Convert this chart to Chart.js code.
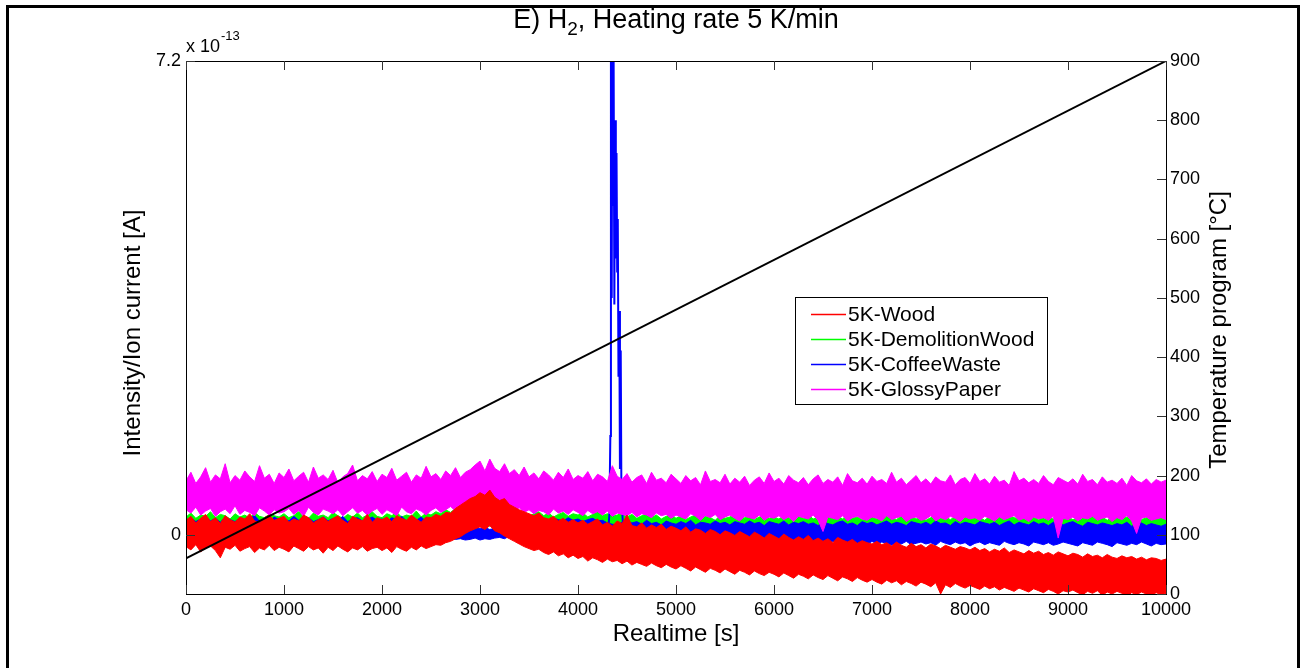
<!DOCTYPE html>
<html><head><meta charset="utf-8">
<script src="https://cdn.jsdelivr.net/npm/chart.js@4/dist/chart.umd.min.js"></script>
<style>html,body{margin:0;padding:0;background:#fff}canvas{display:block}</style>
</head><body>
<canvas id="c" width="1306" height="668"></canvas>
<script>
// ---- data: left-axis values are in units of 1e-13 A; each noisy trace is given by
// the upper and lower edge of its noise band, read every 50 s ----
const sampleTimes = [0,50,100,150,200,250,300,350,400,450,500,550,600,650,700,750,800,850,900,950,
1000,1050,1100,1150,1200,1250,1300,1350,1400,1450,1500,1550,1600,1650,1700,1750,1800,1850,1900,1950,
2000,2050,2100,2150,2200,2250,2300,2350,2400,2450,2500,2550,2600,2650,2700,2750,2800,2850,2900,2950,
3000,3050,3100,3150,3200,3250,3300,3350,3400,3450,3500,3550,3600,3650,3700,3750,3800,3850,3900,3950,
4000,4050,4100,4150,4200,4250,4300,4350,4400,4450,4500,4550,4600,4650,4700,4750,4800,4850,4900,4950,
5000,5050,5100,5150,5200,5250,5300,5350,5400,5450,5500,5550,5600,5650,5700,5750,5800,5850,5900,5950,
6000,6050,6100,6150,6200,6250,6300,6350,6400,6450,6500,6550,6600,6650,6700,6750,6800,6850,6900,6950,
7000,7050,7100,7150,7200,7250,7300,7350,7400,7450,7500,7550,7600,7650,7700,7750,7800,7850,7900,7950,
8000,8050,8100,8150,8200,8250,8300,8350,8400,8450,8500,8550,8600,8650,8700,8750,8800,8850,8900,8950,
9000,9050,9100,9150,9200,9250,9300,9350,9400,9450,9500,9550,9600,9650,9700,9750,9800,9850,9900,9950,
10000];

const woodUpper = [0.22,0.28,0.18,0.25,0.31,0.20,0.26,0.17,0.29,0.23,0.19,0.27,0.24,0.32,0.21,0.18,0.26,0.30,0.22,0.25,
0.28,0.19,0.24,0.21,0.30,0.26,0.18,0.23,0.27,0.20,0.25,0.29,0.22,0.17,0.28,0.24,0.21,0.31,0.19,0.26,
0.23,0.27,0.20,0.29,0.25,0.22,0.30,0.24,0.19,0.27,0.26,0.31,0.28,0.34,0.33,0.40,0.45,0.50,0.55,0.58,
0.64,0.60,0.68,0.57,0.52,0.55,0.46,0.42,0.38,0.35,0.32,0.29,0.33,0.26,0.24,0.28,0.21,0.25,0.19,0.23,
0.18,0.22,0.16,0.20,0.24,0.15,0.19,0.13,0.21,0.17,0.30,0.14,0.12,0.18,0.10,0.15,0.11,0.16,0.08,0.13,
0.10,0.06,0.12,0.04,0.09,0.07,0.02,0.08,0.05,0.00,0.06,0.03,-0.01,0.05,0.01,-0.03,0.04,0.00,-0.05,0.02,
-0.02,-0.06,0.01,-0.04,-0.08,-0.03,-0.07,-0.01,-0.09,-0.05,-0.10,-0.06,-0.12,-0.04,-0.08,-0.11,-0.07,-0.13,-0.09,-0.12,
-0.14,-0.10,-0.15,-0.12,-0.17,-0.11,-0.16,-0.19,-0.13,-0.18,-0.15,-0.20,-0.14,-0.17,-0.21,-0.16,-0.19,-0.22,-0.18,-0.20,
-0.23,-0.19,-0.24,-0.21,-0.26,-0.22,-0.25,-0.20,-0.27,-0.23,-0.26,-0.29,-0.24,-0.28,-0.25,-0.30,-0.27,-0.31,-0.26,-0.29,
-0.32,-0.28,-0.30,-0.34,-0.29,-0.33,-0.31,-0.35,-0.30,-0.34,-0.36,-0.32,-0.35,-0.33,-0.37,-0.34,-0.38,-0.35,-0.36,-0.39,
-0.37];
const woodLower = [-0.18,-0.23,-0.15,-0.26,-0.20,-0.17,-0.24,-0.35,-0.19,-0.22,-0.16,-0.25,-0.21,-0.18,-0.27,-0.20,-0.23,-0.16,-0.24,-0.19,
-0.22,-0.26,-0.17,-0.21,-0.25,-0.18,-0.23,-0.20,-0.28,-0.19,-0.24,-0.17,-0.22,-0.26,-0.20,-0.23,-0.18,-0.25,-0.21,-0.19,
-0.24,-0.20,-0.27,-0.18,-0.22,-0.25,-0.19,-0.23,-0.17,-0.21,-0.18,-0.15,-0.16,-0.12,-0.10,-0.06,-0.03,0.02,0.06,0.09,
0.12,0.08,0.14,0.06,0.03,-0.02,-0.06,-0.10,-0.14,-0.18,-0.21,-0.24,-0.22,-0.27,-0.30,-0.26,-0.32,-0.29,-0.35,-0.31,
-0.36,-0.33,-0.40,-0.35,-0.38,-0.42,-0.37,-0.41,-0.39,-0.44,-0.40,-0.46,-0.42,-0.45,-0.48,-0.43,-0.47,-0.50,-0.45,-0.49,
-0.52,-0.47,-0.51,-0.55,-0.49,-0.53,-0.57,-0.51,-0.54,-0.58,-0.52,-0.56,-0.60,-0.54,-0.57,-0.61,-0.55,-0.59,-0.62,-0.57,
-0.60,-0.64,-0.58,-0.62,-0.66,-0.60,-0.63,-0.67,-0.61,-0.65,-0.68,-0.62,-0.66,-0.70,-0.64,-0.67,-0.71,-0.65,-0.69,-0.72,
-0.68,-0.72,-0.75,-0.69,-0.73,-0.70,-0.76,-0.71,-0.74,-0.78,-0.72,-0.75,-0.79,-0.73,-0.90,-0.76,-0.80,-0.74,-0.78,-0.81,
-0.77,-0.80,-0.83,-0.78,-0.82,-0.79,-0.84,-0.80,-0.83,-0.86,-0.81,-0.84,-0.87,-0.82,-0.85,-0.88,-0.83,-0.86,-0.90,-0.85,
-0.87,-0.84,-0.88,-0.91,-0.86,-0.89,-0.85,-0.92,-0.87,-0.90,-0.86,-0.89,-0.93,-0.88,-0.91,-0.87,-0.90,-0.92,-0.88,-0.91,
-0.89];

const demolitionWoodUpper = [0.27,0.33,0.25,0.30,0.28,0.35,0.26,0.31,0.29,0.24,0.32,0.27,0.30,0.25,0.34,0.28,0.26,0.31,0.29,0.27,
0.32,0.26,0.29,0.35,0.27,0.25,0.33,0.28,0.30,0.26,0.34,0.29,0.25,0.31,0.27,0.33,0.26,0.30,0.35,0.28,
0.26,0.32,0.29,0.34,0.27,0.30,0.28,0.36,0.27,0.33,0.30,0.35,0.32,0.38,0.34,0.40,0.36,0.42,0.38,0.41,
0.37,0.42,0.35,0.40,0.33,0.37,0.31,0.35,0.30,0.34,0.28,0.32,0.35,0.29,0.33,0.27,0.31,0.34,0.28,0.32,
0.30,0.33,0.27,0.31,0.35,0.29,0.32,0.28,0.30,0.33,0.27,0.31,0.25,0.29,0.32,0.26,0.30,0.24,0.28,0.31,
0.25,0.29,0.23,0.27,0.30,0.24,0.28,0.26,0.22,0.29,0.25,0.27,0.31,0.24,0.26,0.28,0.23,0.27,0.30,0.25,
0.27,0.24,0.29,0.26,0.22,0.28,0.25,0.30,0.24,0.27,0.23,0.29,0.26,0.28,0.24,0.31,0.25,0.27,0.23,0.26,
0.28,0.24,0.27,0.30,0.25,0.23,0.29,0.26,0.28,0.24,0.27,0.22,0.26,0.29,0.25,0.27,0.23,0.28,0.25,0.30,
0.24,0.27,0.26,0.22,0.28,0.25,0.29,0.23,0.27,0.26,0.24,0.30,0.25,0.27,0.23,0.28,0.26,0.24,0.29,0.25,
0.27,0.23,0.26,0.28,0.24,0.30,0.25,0.27,0.22,0.26,0.28,0.24,0.27,0.25,0.29,0.23,0.26,0.28,0.24,0.27,
0.25];
const demolitionWoodLower = [0.08,0.05,0.10,0.06,0.09,0.04,0.11,0.07,0.05,0.09,0.06,0.10,0.04,0.08,0.07,0.11,0.05,0.09,0.06,0.08,
0.10,0.05,0.07,0.09,0.04,0.08,0.06,0.11,0.07,0.05,0.09,0.06,0.10,0.04,0.08,0.07,0.05,0.09,0.06,0.10,
0.07,0.04,0.09,0.06,0.08,0.05,0.10,0.07,0.06,0.09,0.08,0.11,0.09,0.12,0.10,0.14,0.12,0.15,0.13,0.16,
0.14,0.17,0.13,0.15,0.11,0.13,0.09,0.11,0.07,0.10,0.06,0.09,0.05,0.08,0.06,0.10,0.07,0.05,0.09,0.06,
0.08,0.05,0.07,0.09,0.04,0.06,0.08,0.05,0.07,0.04,0.06,0.03,0.05,0.02,0.06,0.04,0.03,0.05,0.02,0.04,
0.03,0.05,0.01,0.04,0.02,0.06,0.03,0.00,0.04,0.02,0.05,0.01,0.03,0.04,0.00,0.02,0.05,0.01,0.03,0.02,
0.04,0.01,0.03,0.00,0.05,0.02,0.03,0.01,0.04,0.02,0.00,0.03,0.05,0.01,0.02,0.04,0.00,0.03,0.01,0.02,
0.04,0.00,0.02,0.03,0.01,0.05,0.02,0.00,0.03,0.01,0.04,0.02,0.00,0.03,0.01,0.02,0.04,0.00,0.02,0.03,
0.01,0.03,0.00,0.02,0.04,0.01,0.02,0.00,0.03,0.01,0.02,0.04,0.00,0.01,0.03,0.02,0.00,0.02,0.01,0.03,
0.00,0.02,0.01,0.03,0.00,0.02,0.04,0.01,0.00,0.02,0.01,0.03,0.00,0.01,0.02,0.00,0.03,0.01,0.00,0.02,
0.01];

const coffeeWasteUpper = [0.22,0.26,0.20,0.24,0.28,0.21,0.25,0.19,0.27,0.23,0.20,0.26,0.22,0.25,0.29,0.21,0.24,0.20,0.27,0.23,
0.25,0.21,0.28,0.22,0.24,0.26,0.20,0.23,0.27,0.21,0.25,0.22,0.28,0.20,0.24,0.26,0.21,0.23,0.27,0.22,
0.24,0.20,0.26,0.23,0.28,0.21,0.25,0.22,0.27,0.20,0.24,0.23,0.21,0.19,0.17,0.15,0.13,0.11,0.10,0.12,
0.09,0.11,0.08,0.10,0.13,0.15,0.18,0.20,0.22,0.19,0.24,0.21,0.26,0.22,0.20,0.25,0.23,0.21,0.26,0.22,
0.24,0.20,0.23,0.25,0.21,0.22,0.18,0.16,0.15,0.19,0.21,0.18,0.20,0.16,0.22,0.17,0.19,0.15,0.21,0.18,
0.16,0.20,0.17,0.22,0.15,0.19,0.18,0.16,0.21,0.17,0.19,0.15,0.20,0.18,0.16,0.21,0.17,0.19,0.14,0.20,
0.18,0.16,0.21,0.15,0.19,0.17,0.20,0.16,0.18,0.14,0.20,0.17,0.15,0.19,0.21,0.16,0.18,0.14,0.20,0.17,
0.19,0.15,0.18,0.21,0.16,0.19,0.17,0.14,0.20,0.18,0.16,0.19,0.15,0.21,0.17,0.18,0.14,0.20,0.16,0.19,
0.17,0.15,0.20,0.18,0.16,0.19,0.14,0.18,0.21,0.15,0.19,0.17,0.15,0.20,0.16,0.18,0.14,0.19,0.17,0.15,
0.18,0.20,0.16,0.13,0.19,0.17,0.15,0.18,0.16,0.14,0.17,0.15,0.19,0.13,0.16,0.18,0.14,0.17,0.15,0.13,
0.16];
const coffeeWasteLower = [-0.02,0.03,-0.04,0.01,-0.03,0.02,-0.05,0.00,-0.01,0.03,-0.04,0.01,-0.02,0.02,-0.03,0.00,-0.05,0.02,-0.01,-0.03,
0.01,-0.04,0.02,-0.02,0.00,-0.03,0.03,-0.01,-0.04,0.02,-0.02,0.01,-0.03,0.00,-0.05,0.02,-0.01,-0.03,0.01,-0.02,
0.00,-0.04,0.02,-0.01,-0.03,0.01,-0.02,0.03,-0.04,0.00,-0.02,0.01,-0.03,-0.05,-0.06,-0.07,-0.06,-0.08,-0.07,-0.05,
-0.08,-0.06,-0.07,-0.05,-0.04,-0.06,-0.02,-0.03,0.00,-0.02,0.01,-0.03,0.00,-0.02,-0.04,0.01,-0.01,-0.03,0.00,-0.02,
-0.01,-0.03,0.00,-0.04,-0.02,-0.01,-0.05,-0.03,0.00,-0.06,-0.10,-0.13,-0.09,-0.14,-0.11,-0.12,-0.15,-0.10,-0.13,-0.11,
-0.14,-0.09,-0.12,-0.15,-0.10,-0.13,-0.11,-0.14,-0.12,-0.16,-0.11,-0.13,-0.10,-0.14,-0.12,-0.15,-0.11,-0.13,-0.16,-0.10,
-0.14,-0.12,-0.11,-0.15,-0.13,-0.10,-0.14,-0.12,-0.16,-0.11,-0.13,-0.15,-0.10,-0.12,-0.14,-0.11,-0.16,-0.13,-0.12,-0.15,
-0.10,-0.14,-0.11,-0.13,-0.16,-0.12,-0.14,-0.10,-0.15,-0.13,-0.11,-0.14,-0.12,-0.16,-0.10,-0.13,-0.15,-0.11,-0.14,-0.12,
-0.17,-0.13,-0.11,-0.15,-0.12,-0.14,-0.16,-0.10,-0.13,-0.15,-0.12,-0.14,-0.17,-0.11,-0.13,-0.15,-0.12,-0.16,-0.14,-0.11,
-0.13,-0.15,-0.17,-0.12,-0.14,-0.16,-0.11,-0.13,-0.15,-0.18,-0.12,-0.14,-0.16,-0.13,-0.15,-0.11,-0.14,-0.17,-0.13,-0.15,
-0.14];
// the narrow CoffeeWaste burst near 4400 s (values above 7.2 run off the top of the axes)
const coffeeSpikeTimes  = [4310,4320,4330,4336,4344,4350,4356,4363,4371,4378,4386,4393,4400,4406,4413,4421,4428,4436,4443,4450,4460];
const coffeeSpikeValues = [0.10,0.30,1.50,8.50,3.60,8.00,5.00,7.50,3.50,6.30,4.20,5.80,4.00,4.80,2.40,3.40,1.00,2.80,0.60,0.40,0.10];

const glossyPaperUpper = [0.82,0.95,0.78,0.88,1.02,0.80,0.91,0.85,1.08,0.79,0.90,0.83,0.97,0.88,0.81,1.05,0.86,0.92,0.78,0.94,
0.87,1.00,0.82,0.89,0.95,0.80,1.03,0.86,0.91,0.84,0.98,0.79,0.88,0.93,1.06,0.82,0.90,0.85,0.96,0.81,
0.92,0.87,1.01,0.83,0.89,0.95,0.80,0.91,0.86,1.04,0.88,0.93,0.84,0.97,0.90,1.02,0.87,0.95,0.99,1.06,
1.12,0.97,1.15,1.01,0.96,1.08,0.93,0.99,0.90,1.03,0.88,0.94,0.85,0.97,0.91,0.83,0.95,0.87,1.00,0.84,
0.90,0.86,0.96,0.82,0.92,0.88,0.81,1.05,0.89,0.84,0.93,0.80,0.87,0.91,0.78,0.95,0.83,0.86,0.79,0.92,
0.85,0.78,0.90,0.82,0.87,0.76,0.97,0.81,0.84,0.79,0.92,0.77,0.86,0.80,0.89,0.75,0.83,0.88,0.78,0.94,
0.81,0.86,0.77,0.90,0.83,0.79,0.87,0.76,0.85,0.91,0.78,0.84,0.80,0.88,0.75,0.93,0.82,0.79,0.86,0.77,
0.89,0.81,0.84,0.78,0.95,0.80,0.86,0.76,0.83,0.90,0.79,0.85,0.77,0.88,0.82,0.80,0.91,0.76,0.84,0.87,
0.78,0.93,0.81,0.85,0.77,0.89,0.80,0.83,0.75,0.96,0.82,0.86,0.79,0.84,0.78,0.90,0.81,0.76,0.87,0.83,
0.79,0.85,0.77,0.92,0.81,0.84,0.76,0.88,0.80,0.83,0.78,0.86,0.75,0.90,0.82,0.79,0.85,0.77,0.84,0.80,
0.83];
const glossyPaperLower = [0.38,0.33,0.42,0.30,0.36,0.40,0.28,0.35,0.39,0.32,0.44,0.31,0.37,0.34,0.29,0.41,0.36,0.30,0.38,0.33,
0.35,0.40,0.31,0.37,0.28,0.42,0.34,0.30,0.39,0.36,0.32,0.38,0.29,0.35,0.41,0.33,0.37,0.30,0.36,0.40,
0.31,0.38,0.34,0.29,0.42,0.35,0.32,0.39,0.36,0.30,0.37,0.41,0.34,0.38,0.43,0.36,0.40,0.45,0.39,0.44,
0.47,0.41,0.46,0.42,0.38,0.44,0.40,0.36,0.41,0.34,0.38,0.32,0.37,0.35,0.30,0.39,0.33,0.36,0.31,0.38,
0.34,0.29,0.37,0.32,0.35,0.30,0.36,0.28,0.33,0.31,0.29,0.34,0.27,0.32,0.30,0.26,0.33,0.29,0.31,0.25,
0.30,0.27,0.24,0.32,0.28,0.22,0.29,0.26,0.31,0.23,0.27,0.30,0.25,0.21,0.28,0.26,0.24,0.30,0.22,0.27,
0.25,0.29,0.23,0.27,0.20,0.28,0.26,0.24,0.30,0.22,0.05,0.27,0.25,0.23,0.29,0.21,0.26,0.28,0.24,0.22,
0.27,0.25,0.21,0.29,0.23,0.26,0.28,0.20,0.25,0.27,0.22,0.24,0.29,0.21,0.26,0.23,0.28,0.25,0.20,0.27,
0.24,0.26,0.22,0.28,0.25,0.21,0.27,0.23,0.26,0.29,0.22,0.25,0.20,0.27,0.24,0.26,0.22,0.28,-0.05,0.25,
0.23,0.27,0.21,0.26,0.24,0.28,0.22,0.25,0.27,0.20,0.26,0.23,0.29,0.21,0.02,0.25,0.27,0.22,0.24,0.26,
0.23];

const temperatureTimes  = [0, 10000];
const temperatureValues = [60, 900];

const xTickValues     = [0,1000,2000,3000,4000,5000,6000,7000,8000,9000,10000];
const leftTickValues  = [0, 7.2];
const rightTickValues = [0,100,200,300,400,500,600,700,800,900];

const seriesLabels = ['5K-Wood','5K-DemolitionWood','5K-CoffeeWaste','5K-GlossyPaper'];
const seriesColors = ['#ff0000','#00ff00','#0000ff','#ff00ff'];

const titleText = ['E) H', '2', ', Heating rate 5 K/min'];
const xLabel = 'Realtime [s]';
const yLabel = 'Intensity/Ion current [A]';
const y1Label = 'Temperature program [\u00B0C]';

// ---- build ----
const FONT = '"Liberation Sans", Arial, sans-serif';
const pairs = (ts, vs) => ts.map((t, i) => ({x: t, y: vs[i]}));
const bands = [
  [woodUpper, woodLower],
  [demolitionWoodUpper, demolitionWoodLower],
  [coffeeWasteUpper, coffeeWasteLower],
  [glossyPaperUpper, glossyPaperLower]
];
const drawOrder = [1, 4, 3, 2]; // lower = on top: red over magenta over blue over green

const datasets = [];
seriesLabels.forEach((lab, i) => {
  const c = seriesColors[i];
  datasets.push({
    label: lab, data: pairs(sampleTimes, bands[i][0]), borderColor: c, backgroundColor: c,
    borderWidth: 1, pointRadius: 0, tension: 0, yAxisID: 'y', order: drawOrder[i],
    fill: '+1', inLegend: true
  });
  datasets.push({
    label: lab + ' (lower)', data: pairs(sampleTimes, bands[i][1]), borderColor: c, backgroundColor: c,
    borderWidth: 1, pointRadius: 0, tension: 0, yAxisID: 'y', order: drawOrder[i],
    fill: false, inLegend: false
  });
  if (i === 2) {
    datasets.push({
      label: lab + ' (burst)', data: pairs(coffeeSpikeTimes, coffeeSpikeValues), borderColor: c,
      borderWidth: 2, pointRadius: 0, tension: 0, yAxisID: 'y', order: drawOrder[i],
      fill: false, inLegend: false
    });
  }
});
datasets.push({
  label: 'Temperature', data: pairs(temperatureTimes, temperatureValues), borderColor: '#000',
  borderWidth: 2, pointRadius: 0, tension: 0, yAxisID: 'y1', order: 0, fill: false, inLegend: false
});

const frameTicks = {
  id: 'frameTicks',
  afterDatasetsDraw(chart) {
    const {ctx, chartArea: a, scales} = chart;
    ctx.save();
    ctx.strokeStyle = '#000'; ctx.lineWidth = 1;
    ctx.strokeRect(Math.round(a.left) + 0.5, Math.round(a.top) + 0.5, Math.round(a.right - a.left), Math.round(a.bottom - a.top));
    ctx.strokeStyle = '#333';
    const L = 9;
    ctx.beginPath();
    scales.x.ticks.forEach(t => {
      const px = Math.round(scales.x.getPixelForValue(t.value)) + 0.5;
      ctx.moveTo(px, a.bottom); ctx.lineTo(px, a.bottom - L);
      ctx.moveTo(px, a.top); ctx.lineTo(px, a.top + L);
    });
    scales.y.ticks.forEach(t => {
      const py = Math.round(scales.y.getPixelForValue(t.value)) + 0.5;
      ctx.moveTo(a.left, py); ctx.lineTo(a.left + L, py);
    });
    scales.y1.ticks.forEach(t => {
      const py = Math.round(scales.y1.getPixelForValue(t.value)) + 0.5;
      ctx.moveTo(a.right, py); ctx.lineTo(a.right - L, py);
    });
    ctx.stroke();
    ctx.restore();
  }
};

const annotations = {
  id: 'annotations',
  afterDraw(chart) {
    const {ctx, chartArea: a} = chart;
    ctx.save();
    ctx.fillStyle = '#000';
    // outer frame
    ctx.fillRect(6, 5, 1294, 3);
    ctx.fillRect(6, 5, 3, 663);
    ctx.fillRect(1297, 5, 3, 663);
    // title with subscript
    const cx = (a.left + a.right) / 2;
    ctx.textBaseline = 'alphabetic';
    ctx.font = '27px ' + FONT;
    const w0 = ctx.measureText(titleText[0]).width;
    const w2 = ctx.measureText(titleText[2]).width;
    ctx.font = '19px ' + FONT;
    const w1 = ctx.measureText(titleText[1]).width;
    let x = cx - (w0 + w1 + w2) / 2;
    ctx.textAlign = 'left';
    ctx.font = '27px ' + FONT;
    ctx.fillText(titleText[0], x, 28); x += w0;
    ctx.font = '19px ' + FONT;
    ctx.fillText(titleText[1], x, 35); x += w1;
    ctx.font = '27px ' + FONT;
    ctx.fillText(titleText[2], x, 28);
    // exponent label
    ctx.font = '18px ' + FONT;
    ctx.fillText('x 10', a.left, 52);
    const wx = ctx.measureText('x 10').width;
    ctx.font = '13px ' + FONT;
    ctx.fillText('-13', a.left + wx + 1, 40);
    // axis titles
    ctx.font = '24px ' + FONT;
    ctx.textAlign = 'center'; ctx.textBaseline = 'middle';
    ctx.fillText(xLabel, cx, 634);
    ctx.save(); ctx.translate(133, 333); ctx.rotate(-Math.PI / 2); ctx.fillText(yLabel, 0, 0); ctx.restore();
    ctx.save(); ctx.translate(1219, 330); ctx.rotate(-Math.PI / 2); ctx.fillText(y1Label, 0, 0); ctx.restore();
    // legend
    const bx = 795, by = 297, bw = 252, bh = 107;
    ctx.fillStyle = '#fff';
    ctx.fillRect(bx, by, bw, bh);
    ctx.strokeStyle = '#000'; ctx.lineWidth = 1;
    ctx.strokeRect(bx + 0.5, by + 0.5, bw, bh);
    ctx.font = '21px ' + FONT;
    ctx.textAlign = 'left'; ctx.textBaseline = 'middle';
    const items = chart.data.datasets.filter(d => d.inLegend);
    items.forEach((d, i) => {
      const ry = 314 + i * 25;
      ctx.strokeStyle = d.borderColor; ctx.lineWidth = 1.5;
      ctx.beginPath(); ctx.moveTo(811, ry + 0.5); ctx.lineTo(846, ry + 0.5); ctx.stroke();
      ctx.fillStyle = '#000';
      ctx.fillText(d.label, 848, ry + 1);
    });
    ctx.restore();
  }
};

new Chart(document.getElementById('c'), {
  type: 'line',
  data: { datasets },
  options: {
    responsive: false, animation: false, devicePixelRatio: 1,
    layout: { padding: { top: 61, left: 0, right: 0, bottom: 0 } },
    plugins: { legend: { display: false }, tooltip: { enabled: false }, title: { display: false },
               filler: { propagate: false } },
    scales: {
      x: {
        type: 'linear', min: 0, max: 10000,
        grid: { display: false, drawTicks: false }, border: { display: false },
        afterBuildTicks: s => { s.ticks = xTickValues.map(v => ({value: v})); },
        afterFit: s => { s.height = 74; },
        ticks: { color: '#000', font: { size: 18, family: FONT }, padding: 5, maxRotation: 0, autoSkip: false, callback: v => String(v) }
      },
      y: {
        type: 'linear', position: 'left', min: -0.9, max: 7.2,
        grid: { display: false, drawTicks: false }, border: { display: false },
        afterBuildTicks: s => { s.ticks = leftTickValues.map(v => ({value: v})); },
        afterFit: s => { s.width = 186; },
        ticks: { color: '#000', font: { size: 18, family: FONT }, padding: 5, autoSkip: false, callback: v => String(v) }
      },
      y1: {
        type: 'linear', position: 'right', min: 0, max: 900,
        grid: { display: false, drawTicks: false }, border: { display: false },
        afterBuildTicks: s => { s.ticks = rightTickValues.map(v => ({value: v})); },
        afterFit: s => { s.width = 140; },
        ticks: { color: '#000', font: { size: 18, family: FONT }, padding: 4, autoSkip: false, callback: v => String(v) }
      }
    }
  },
  plugins: [frameTicks, annotations]
});
</script>
</body></html>
